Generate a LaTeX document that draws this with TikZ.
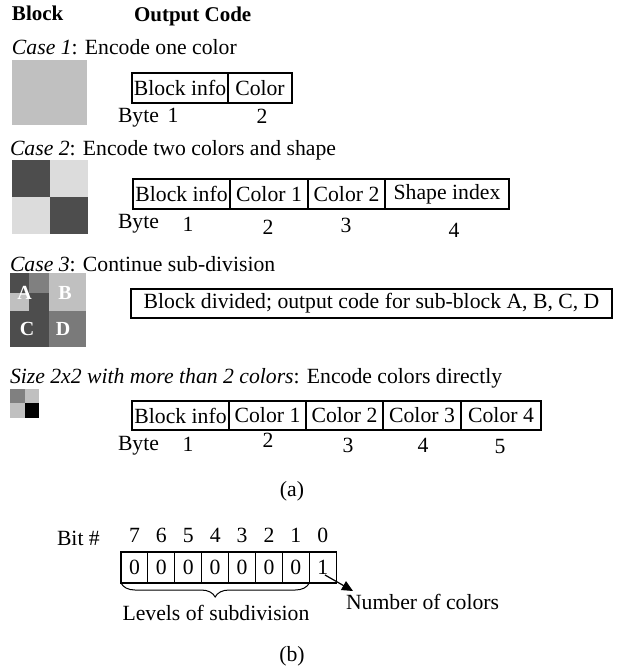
\documentclass[tikz,border=0pt]{standalone}
\usepackage{fontspec}
\setmainfont{Liberation Serif}
\usetikzlibrary{decorations.pathreplacing,arrows.meta}
\definecolor{lg}{HTML}{C0C0C0}
\definecolor{vlg}{HTML}{DCDCDC}
\definecolor{dg}{HTML}{4D4D4D}
\definecolor{mg}{HTML}{808080}
\definecolor{dmg}{HTML}{7A7A7A}
\begin{document}
\begin{tikzpicture}[x=1pt,y=-1pt,
  every node/.style={inner sep=0pt,outer sep=0pt,font=\fontsize{21.7}{25}\selectfont},
  txt/.style={anchor=base west},
  num/.style={anchor=base},
  cell/.style={draw,line width=1.6pt,anchor=north west},
  bitcell/.style={draw,line width=1.1pt,anchor=north west,minimum width=26.9pt,minimum height=31pt},
  letter/.style={text=white,font=\fontsize{20}{24}\selectfont\bfseries}]
\useasboundingbox (0,0) rectangle (619,666);

% headings
\node[txt,font=\fontsize{21}{25}\selectfont\bfseries] (hblock) at (12,21) {Block};
\node[txt,font=\fontsize{21}{25}\selectfont\bfseries] (hcode) at (134,22) {Output Code};

% Case 1
\node[txt] (t1) at (12,55) {\textit{Case 1}: Encode one color};
\fill[lg] (12,60) rectangle (87,125);
\node[cell,minimum width=96pt,minimum height=30pt] (c1a) at (132,73) {Block info};
\node[cell,minimum width=64pt,minimum height=30pt] (c1b) at (228,73) {Color};
\node[txt] (by1) at (118,123) {Byte};
\node[num] (n11) at (173,123) {1};
\node[num] (n12) at (262,124) {2};

% Case 2
\node[txt] (t2) at (10,155) {\textit{Case 2}: Encode two colors and shape};
\fill[vlg] (12,160) rectangle (88,234);
\fill[dg] (12,160) rectangle (50,197);
\fill[dg] (50,197) rectangle (88,234);
\node[cell,minimum width=97pt,minimum height=30pt] (c2a) at (133,179) {Block info};
\node[cell,minimum width=78pt,minimum height=30pt] (c2b) at (230,179) {Color 1};
\node[cell,minimum width=77pt,minimum height=30pt] (c2c) at (308,179) {Color 2};
\node[cell,minimum width=124pt,minimum height=30pt] (c2d) at (385,179) {Shape index};
\node[txt] (by2) at (118,228) {Byte};
\node[num] (n21) at (188,231) {1};
\node[num] (n22) at (268,234) {2};
\node[num] (n23) at (346,232) {3};
\node[num] (n24) at (454,237) {4};

% Case 3
\node[txt] (t3) at (10,271) {\textit{Case 3}: Continue sub-division};
\fill[lg] (10,273) rectangle (86,347);
\fill[dg] (10,311) rectangle (49,347);
\fill[dmg] (49,311) rectangle (86,347);
\fill[dg] (10,273) rectangle (29,293);
\fill[mg] (29,273) rectangle (49,293);
\fill[dg] (29,293) rectangle (49,311);
\node[letter] (la) at (24.5,293) {A};
\node[letter] (lb) at (65,293) {B};
\node[letter] (lc) at (27,329) {C};
\node[letter] (ld) at (63,329) {D};
\node[cell,minimum width=481pt,minimum height=29pt] (c3) at (131,289) {Block divided; output code for sub-block A, B, C, D};

% Case 4
\node[txt] (t4) at (10,383) {\textit{Size 2x2 with more than 2 colors}: Encode colors directly};
\fill[lg] (10,389) rectangle (39,418);
\fill[mg] (10,389) rectangle (25,403);
\fill[black] (25,403) rectangle (39,418);
\node[cell,minimum width=97pt,minimum height=29pt] (c4a) at (132,401) {Block info};
\node[cell,minimum width=77pt,minimum height=29pt] (c4b) at (229,401) {Color 1};
\node[cell,minimum width=77pt,minimum height=29pt] (c4c) at (306,401) {Color 2};
\node[cell,minimum width=78pt,minimum height=29pt] (c4d) at (383,401) {Color 3};
\node[cell,minimum width=80pt,minimum height=29pt] (c4e) at (461,401) {Color 4};
\node[txt] (by4) at (118,450) {Byte};
\node[num] (n41) at (188,451) {1};
\node[num] (n42) at (268,447) {2};
\node[num] (n43) at (348,452) {3};
\node[num] (n44) at (423,452) {4};
\node[num] (n45) at (500,453) {5};

\node[num] (capa) at (292,496) {(a)};

% (b)
\node[txt] (bit) at (57,545) {Bit \#};
\foreach \i/\b/\v in {0/7/0,1/6/0,2/5/0,3/4/0,4/3/0,5/2/0,6/1/0,7/0/1}{
  \node[bitcell] (b\b) at ({121+26.9*\i},552) {\v};
  \node[num] (bn\b) at ({134.5+26.9*\i},542) {\b};
}
\draw[decorate,decoration={brace,mirror,amplitude=14pt},line width=1pt]
  (b7.south west) -- (b1.south east);
\node[num] (lvl) at (216,620) {Levels of subdivision};
\node[txt] (ncol) at (346,609) {Number of colors};
\coordinate (arrs) at (325,575);
\coordinate (arre) at (353,591);
\draw[line width=1.2pt,-{Triangle[length=11pt,width=10pt]}] (arrs) -- (arre);

\node[num] (capb) at (292,661) {(b)};
\end{tikzpicture}
\end{document}
